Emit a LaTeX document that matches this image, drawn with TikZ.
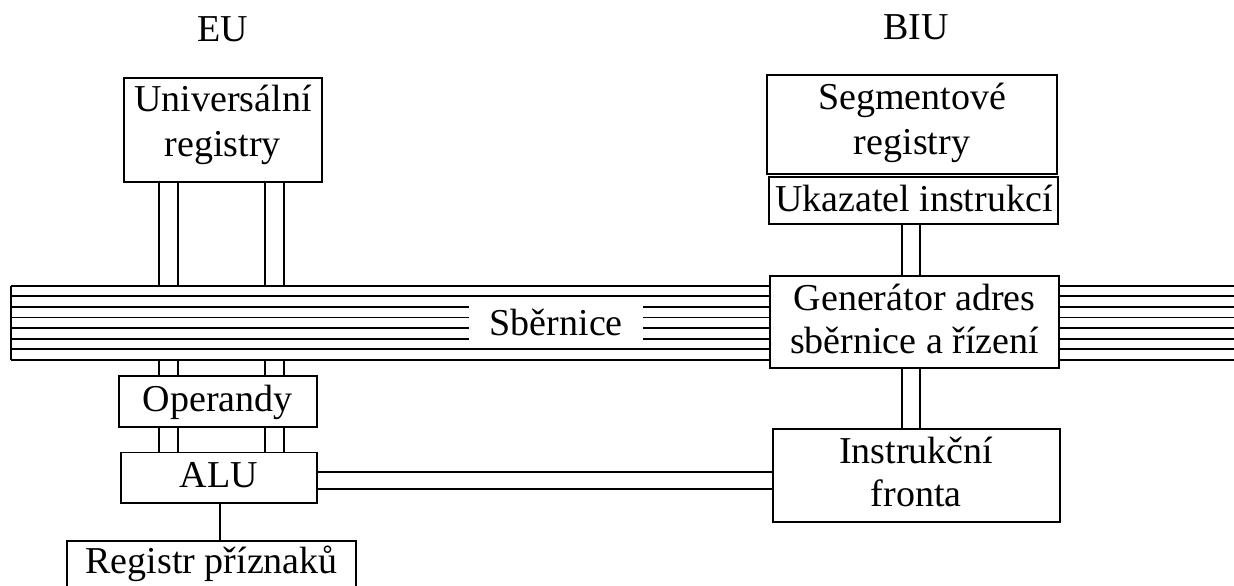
\documentclass[tikz,border=0pt]{standalone}
\usepackage{fontspec}
\setmainfont{Liberation Serif}
\usetikzlibrary{fit}
\begin{document}
\begin{tikzpicture}[x=1pt,y=-1pt,
  line width=1.8pt,
  box/.style={draw, fill=white, inner sep=0pt},
  busmask/.style={fill=white, inner sep=0pt},
  txt/.style={inner sep=0pt, anchor=base, font=\fontsize{38}{44}\selectfont}]
\useasboundingbox (0,0) rectangle (1234,586);

% column positions of the parallel links
\coordinate (c1) at (159.3,0);
\coordinate (c2) at (178.3,0);
\coordinate (c3) at (265.3,0);
\coordinate (c4) at (284.0,0);
\coordinate (c5) at (901.6,0);
\coordinate (c6) at (920.0,0);
\coordinate (cr) at (220.0,0);
\coordinate (ra) at (0,472.3);
\coordinate (rb) at (0,489.3);

% system bus: eight parallel lines
\coordinate (bustop) at (11,285.7);
\coordinate (busbot) at (11,360);
\foreach \i in {0,...,7}
  \draw (11,285.7+\i*10.614) -- (1240,285.7+\i*10.614);
\draw (bustop) -- (busbot);

% unit headings
\node[txt] (eu) at (223,41.5) {EU};
\node[txt] (biu) at (916,40) {BIU};

% blocks
\node[box, fit={(124,77.7)(321.7,182)}] (ureg) {};
\node[box, fit={(767.3,75.3)(1056.7,174)}] (seg) {};
\node[box, fit={(769.3,176.7)(1058.3,224.3)}] (ukaz) {};
\node[busmask, fit={(469.3,303.5)(643.3,346)}] (sblab) {};
\node[box, fit={(770,275.7)(1059.3,368.3)}] (gen) {};
\node[box, fit={(772.7,429)(1060,521.7)}] (fronta) {};
\node[box, fit={(119,376)(316.7,426.7)}] (oper) {};
\node[box, fit={(120.7,452.5)(317,503.3)}] (alu) {};
\node[box, fit={(67.3,540.7)(356,600)}] (reg) {};

% block captions
\node[txt] (ureg1) at (222.9,111.7) {Universální};
\node[txt] (ureg2) at (222.9,156) {registry};
\node[txt] (seg1) at (912,110) {Segmentové};
\node[txt] (seg2) at (912,154) {registry};
\node[txt] (ukaz1) at (913.8,211.7) {Ukazatel instrukcí};
\node[txt] (sb) at (556.3,335) {Sběrnice};
\node[txt] (gen1) at (914.6,310) {Generátor adres};
\node[txt] (gen2) at (914.6,353.3) {sběrnice a řízení};
\node[txt] (oper1) at (217.9,411) {Operandy};
\node[txt] (alu1) at (218.9,487.3) {ALU};
\node[txt] (fr1) at (916.3,463.3) {Instrukční};
\node[txt] (fr2) at (916.3,506.7) {fronta};
\node[txt] (reg1) at (211.7,573.3) {Registr příznaků};

% links: registers to bus
\foreach \c in {c1,c2,c3,c4} {
  \draw (ureg.south -| \c) -- (bustop -| \c);
  \draw (busbot -| \c) -- (oper.north -| \c);
  \draw (oper.south -| \c) -- (alu.north -| \c);
}
% links in the bus interface unit
\foreach \c in {c5,c6} {
  \draw (ukaz.south -| \c) -- (gen.north -| \c);
  \draw (gen.south -| \c) -- (fronta.north -| \c);
}
% instruction queue to ALU
\draw (alu.east |- ra) -- (fronta.west |- ra);
\draw (alu.east |- rb) -- (fronta.west |- rb);
% ALU to flags register
\draw (alu.south -| cr) -- (reg.north -| cr);
\end{tikzpicture}
\end{document}
